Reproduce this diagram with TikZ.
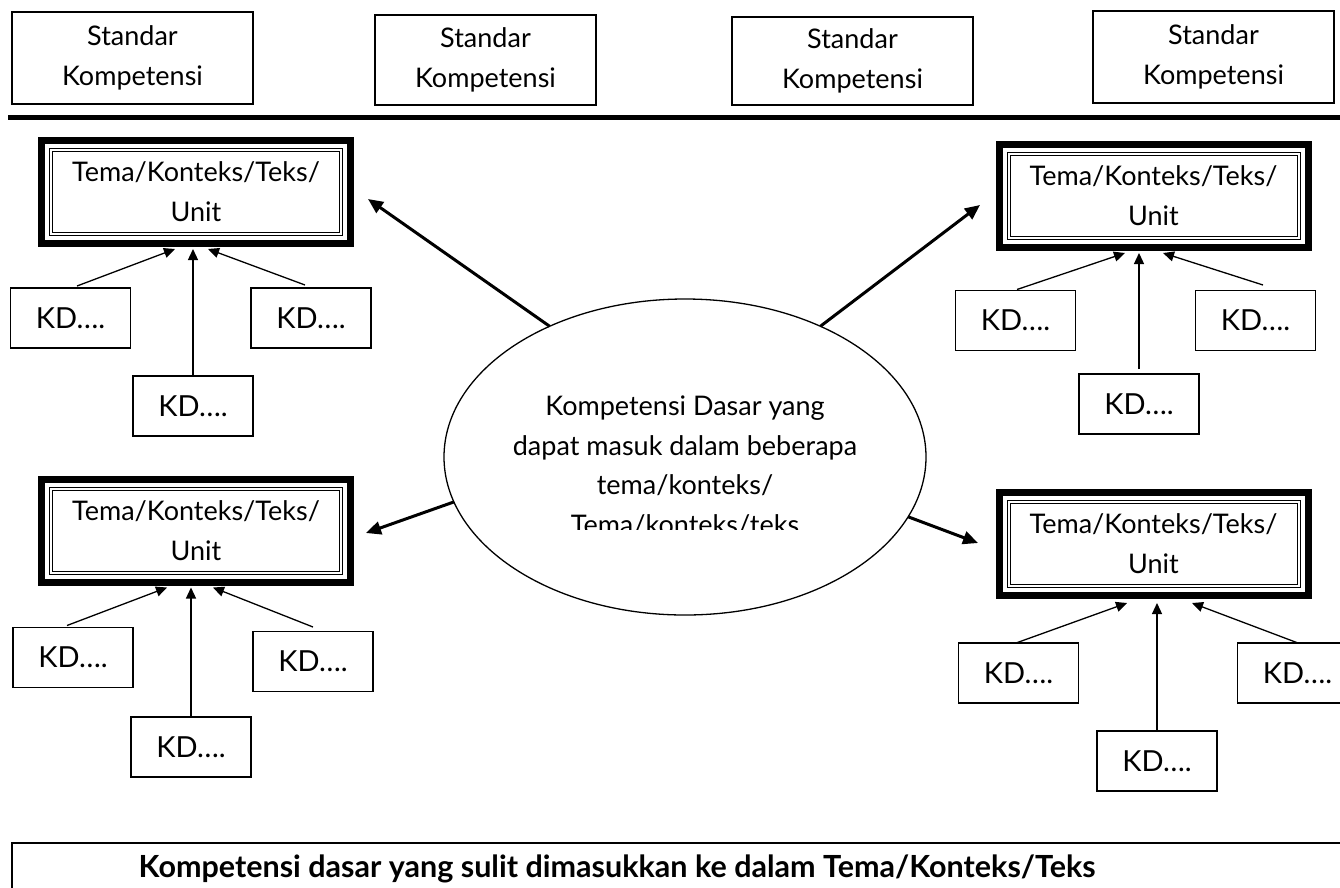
\documentclass[tikz,border=0pt]{standalone}
\usepackage{fontspec}
\setmainfont{Lato}
\usetikzlibrary{shapes.geometric,arrows.meta,calc}
\begin{document}
\begin{tikzpicture}[x=1pt,y=-1pt,
  txt/.style={font=\fontsize{27}{40}\selectfont},
  skbox/.style={draw,line width=1.3pt,inner sep=0pt,outer sep=0pt,align=center,txt},
  temabox/.style={draw,line width=7pt,inner sep=0pt,outer sep=0pt,minimum width=309pt,minimum height=103pt,align=center,txt},
  kdbox/.style={draw,line width=1.3pt,inner sep=0pt,outer sep=0pt,minimum width=120pt,minimum height=60pt,font=\fontsize{29}{34}\selectfont},
  thinarrow/.style={line width=1.3pt,-{Triangle[length=11pt,width=10pt]}},
  thickarrow/.style={line width=3pt,-{Triangle[length=15pt,width=13pt]}},
  innerline/.style={line width=1pt,double distance=2pt}
]
\useasboundingbox (0,0) rectangle (1340,887);
\fill[white] (0,0) rectangle (1340,887);
\clip (0,0) rectangle (1340,887);

% Standar Kompetensi boxes
\node[skbox,minimum width=241pt,minimum height=92pt] (S1) at (132.5,58) {Standar\\Kompetensi};
\node[skbox,minimum width=221pt,minimum height=90pt] (S2) at (485.5,60) {Standar\\Kompetensi};
\node[skbox,minimum width=241pt,minimum height=88pt] (S3) at (852.5,61) {Standar\\Kompetensi};
\node[skbox,minimum width=241pt,minimum height=92pt] (S4) at (1213.5,57) {Standar\\Kompetensi};

% thick separator
\coordinate (sepL) at (8,117);
\coordinate (sepR) at (1345,117);
\draw[line width=5pt] (sepL) -- (sepR);

% Tema boxes
\node[temabox] (T1) at (196,192) {Tema/Konteks/Teks/\\Unit};
\node[temabox] (T2) at (1153.5,196) {Tema/Konteks/Teks/\\Unit};
\node[temabox] (T3) at (196,530.5) {Tema/Konteks/Teks/\\Unit};
\node[temabox] (T4) at (1153.5,544) {Tema/Konteks/Teks/\\Unit};
\foreach \t in {T1,T2,T3,T4}
  \draw[innerline] ([shift={(9.5,9.5)}]\t.north west) rectangle ([shift={(-9.5,-9.5)}]\t.south east);

% KD boxes
\node[kdbox] (K1a) at (70.5,318) {KD….};
\node[kdbox] (K1b) at (193,406) {KD….};
\node[kdbox] (K1c) at (311,318) {KD….};
\node[kdbox] (K2a) at (1015.5,320.5) {KD….};
\node[kdbox] (K2b) at (1139,404) {KD….};
\node[kdbox] (K2c) at (1255.5,320.5) {KD….};
\node[kdbox] (K3a) at (73,657.5) {KD….};
\node[kdbox] (K3b) at (191,747) {KD….};
\node[kdbox] (K3c) at (313,661.5) {KD….};
\node[kdbox] (K4a) at (1018.5,673) {KD….};
\node[kdbox] (K4b) at (1157,761) {KD….};
\node[kdbox] (K4c) at (1297.5,673) {KD….};

% KD -> Tema arrows
\draw[thinarrow] ($(K1a.north)+(6.5,-2)$) -- ($(T1.south)+(-21,5.5)$);
\draw[thinarrow] (K1b.north) -- ($(T1.south)+(-3,5.5)$);
\draw[thinarrow] ($(K1c.north)+(-6,-3)$) -- ($(T1.south)+(12,5.5)$);

\draw[thinarrow] ($(K2a.north)+(1.5,-1)$) -- ($(T2.south)+(-28.5,5.5)$);
\draw[thinarrow] ($(K2b.north)+(0,-5)$) -- ($(T2.south)+(-14.5,5.5)$);
\draw[thinarrow] ($(K2c.north)+(7.5,-5.5)$) -- ($(T2.south)+(9.5,5.5)$);

\draw[thinarrow] ($(K3a.north)+(-6,-2)$) -- ($(T3.south)+(-29,5.5)$);
\draw[thinarrow] (K3b.north) -- ($(T3.south)+(-5,5.5)$);
\draw[thinarrow] ($(K3c.north)+(0,-4.5)$) -- ($(T3.south)+(17,5.5)$);

\draw[thinarrow] ($(K4a.north)+(-2.5,0)$) -- ($(T4.south)+(-26.5,7.5)$);
\draw[thinarrow] (K4b.north) -- ($(T4.south)+(3.5,7.5)$);
\draw[thinarrow] ($(K4c.north)+(0.5,0)$) -- ($(T4.south)+(38.5,7.5)$);

% central ellipse
\node[draw,ellipse,line width=1.3pt,inner sep=0pt,outer sep=0pt,minimum width=482pt,minimum height=316pt] (ell) at (685,457) {};
\begin{scope}
  \clip (440,380) rectangle (930,529);
  \node[align=center,font=\fontsize{27}{39.5}\selectfont] (elltext) at (685,465.5)
    {Kompetensi Dasar yang\\dapat masuk dalam beberapa\\tema/konteks/\\Tema/konteks/teks};
\end{scope}

% ellipse -> Tema arrows
\draw[thickarrow] (ell.136.5) -- ($(T1.east)+(17.5,7)$);
\draw[thickarrow] (ell.44.8) -- ($(T2.west)+(-19,9)$);
\draw[thickarrow] (ell.191.2) -- ($(T3.east)+(15.5,2.5)$);
\draw[thickarrow] (ell.345.9) -- ($(T4.west)+(-21,-1)$);

% bottom box
\node[draw,line width=1.8pt,inner sep=0pt,outer sep=0pt,minimum width=1336pt,minimum height=80pt] (botbox) at (680,883) {};
\node[font=\fontsize{30.5}{34}\selectfont\bfseries] (bottext) at (617,869) {Kompetensi dasar yang sulit dimasukkan ke dalam Tema/Konteks/Teks};
\end{tikzpicture}
\end{document}
